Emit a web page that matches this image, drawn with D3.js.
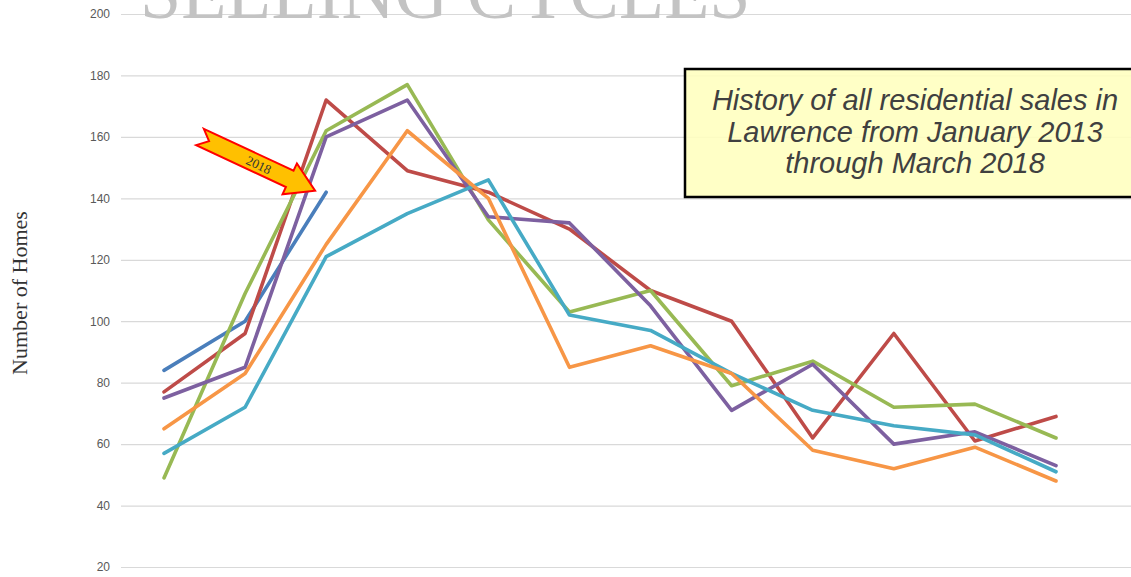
<!DOCTYPE html>
<html>
<head>
<meta charset="utf-8">
<script src="https://cdn.jsdelivr.net/npm/d3@7"></script>
<style>
  body { margin: 0; background: #fff; overflow: hidden; }
</style>
</head>
<body>
<figure id="chart" style="margin:0"></figure>
<script>
// months on the x axis (no labels shown in the picture)
var months = [1, 2, 3, 4, 5, 6, 7, 8, 9, 10, 11, 12];
var yTicks = [20, 40, 60, 80, 100, 120, 140, 160, 180, 200];

// homes sold per month, one array per year
var s2018 = [84, 100, 142];
var sRed = [77, 96, 172, 149, 142, 130, 110, 100, 62, 96, 61, 69];
var sGreen = [49, 109, 162, 177, 133, 103, 110, 79, 87, 72, 73, 62];
var sPurple = [75, 85, 160, 172, 134, 132, 105, 71, 86, 60, 64, 53];
var sAqua = [57, 72, 121, 135, 146, 102, 97, 83, 71, 66, 63, 51];
var sOrange = [65, 83, 125, 162, 140, 85, 92, 83, 58, 52, 59, 48];

var series = [
  {name: "2018", values: s2018, color: "#4A7EBB"},
  {name: "red", values: sRed, color: "#BE4B48"},
  {name: "green", values: sGreen, color: "#98B954"},
  {name: "purple", values: sPurple, color: "#7D60A0"},
  {name: "aqua", values: sAqua, color: "#46AAC5"},
  {name: "orange", values: sOrange, color: "#F79646"}
];

var width = 1131, height = 577;

var svg = d3.select("figure#chart")
  .append("svg")
    .attr("width", width)
    .attr("height", height);

var x = d3.scalePoint()
  .domain(months)
  .range([164, 1056]);

var y = d3.scaleLinear()
  .domain([20, 200])
  .range([567, 14]);

// gridlines + tick labels
var yAxis = svg.append("g")
  .attr("transform", "translate(121,0)")
  .call(d3.axisLeft(y)
    .tickValues(yTicks)
    .tickSize(-(width - 121))
    .tickPadding(11));
yAxis.select(".domain").remove();
yAxis.selectAll(".tick line")
  .attr("stroke", "#d9d9d9")
  .attr("stroke-width", 1.2);
yAxis.selectAll(".tick text")
  .attr("fill", "#595959")
  .style("font-family", "'Liberation Sans', Arial, sans-serif")
  .style("font-size", "12px");

// big faded title, cut by the top edge (as in the original slide)
svg.append("text")
  .attr("x", 140)
  .attr("y", 18)
  .attr("fill", "#c3c3c3")
  .style("font-family", "'Liberation Serif', 'Times New Roman', serif")
  .style("font-size", "74px")
  .text("SELLING CYCLES");

// y axis title
svg.append("text")
  .attr("transform", "translate(27,293) rotate(-90)")
  .attr("text-anchor", "middle")
  .attr("fill", "#333")
  .style("font-family", "'Liberation Serif', 'Times New Roman', serif")
  .style("font-size", "22px")
  .text("Number of Homes");

// the lines
var line = d3.line()
  .x(function(d, i) { return x(months[i]); })
  .y(function(d) { return y(d); });

svg.append("g")
  .selectAll("path")
  .data(series)
  .join("path")
    .attr("fill", "none")
    .attr("stroke", function(d) { return d.color; })
    .attr("stroke-width", 3.6)
    .attr("stroke-linejoin", "round")
    .attr("stroke-linecap", "round")
    .attr("d", function(d) { return line(d.values); });

// arrow pointing at 2018 line
var L = 127;
var arrowPts = [[0, -9], [L - 28, -9], [L - 28, -17], [L, 0], [L - 28, 17], [L - 28, 9], [0, 9], [10, 0]];
var arrow = svg.append("g")
  .attr("transform", "translate(200,137) rotate(25)");
arrow.append("polygon")
  .attr("points", arrowPts.map(function(p) { return p.join(","); }).join(" "))
  .attr("fill", "#FFC000")
  .attr("stroke", "#FF0000")
  .attr("stroke-width", 2)
  .attr("stroke-linejoin", "miter");
arrow.append("text")
  .attr("x", 65)
  .attr("y", 5)
  .attr("text-anchor", "middle")
  .attr("fill", "#333")
  .style("font-family", "'Liberation Serif', 'Times New Roman', serif")
  .style("font-size", "13px")
  .text("2018");

// note box
var note = svg.append("g");
note.append("rect")
  .attr("x", 685)
  .attr("y", 69)
  .attr("width", 470)
  .attr("height", 128)
  .attr("fill", "#FFFFBE")
  .attr("fill-opacity", 0.88)
  .attr("stroke", "#000")
  .attr("stroke-width", 2.5);
var noteLines = ["History of all residential sales in", "Lawrence from January 2013", "through March 2018"];
note.selectAll("text")
  .data(noteLines)
  .join("text")
    .attr("x", 915)
    .attr("y", function(d, i) { return 110 + i * 31.5; })
    .attr("text-anchor", "middle")
    .attr("fill", "#404040")
    .style("font-family", "'Liberation Sans', Arial, sans-serif")
    .style("font-style", "italic")
    .style("font-size", "29px")
    .text(function(d) { return d; });
</script>
</body>
</html>
